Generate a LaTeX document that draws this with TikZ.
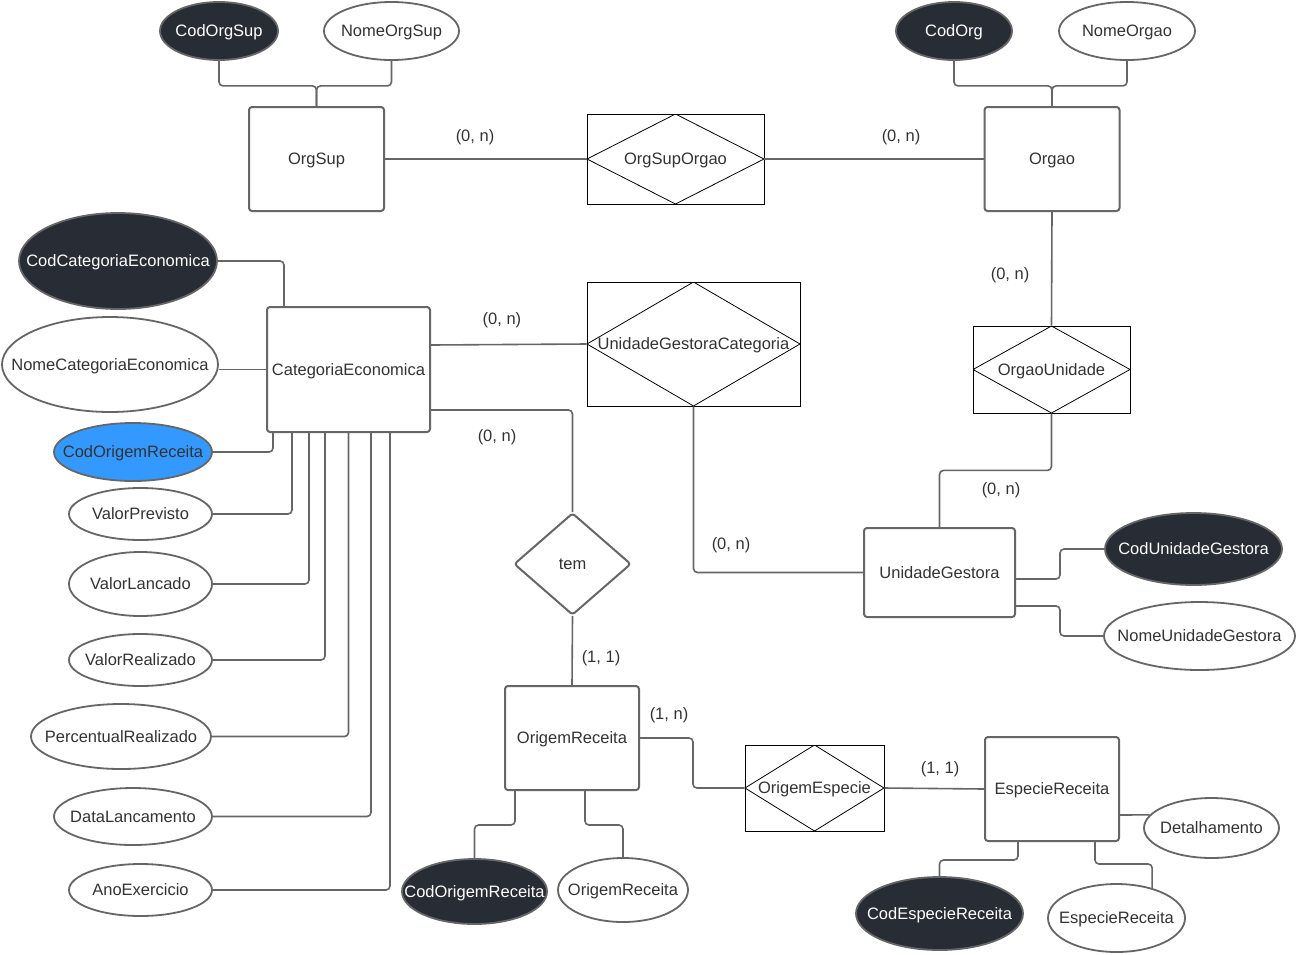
\documentclass[tikz,border=0pt]{standalone}
\usepackage{fontspec}
\setmainfont{Liberation Sans}
\usetikzlibrary{positioning}
\usetikzlibrary{calc}
\usetikzlibrary{shapes.geometric}
\definecolor{linegray}{RGB}{102,102,102}
\definecolor{textgray}{RGB}{51,51,51}
\definecolor{keyfill}{RGB}{40,44,52}
\definecolor{bluefill}{RGB}{51,153,255}

\begin{document}
\begin{tikzpicture}[
    x=1pt, y=-1pt,
    every node/.style={font=\fontsize{16.5}{20}\selectfont, text=textgray, text depth=0pt},
    entity/.style={rectangle, draw=linegray, line width=2pt, rounded corners=3pt, fill=white, minimum width=135pt, minimum height=104pt, inner sep=0pt},
    attr/.style={ellipse, draw=linegray, line width=1.8pt, fill=white, inner sep=0pt,
        execute at begin node={\hbox to 0pt\bgroup\hss}, execute at end node={\hss\egroup}},
    keyattr/.style={attr, fill=keyfill, text=white},
    assoc/.style={rectangle, draw=black, line width=0.8pt, inner sep=0pt,
        path picture={\draw[black, line width=0.8pt] (path picture bounding box.north) -- (path picture bounding box.east) -- (path picture bounding box.south) -- (path picture bounding box.west) -- cycle;}},
    link/.style={draw=linegray, line width=1.6pt, rounded corners=4pt},
    card/.style={inner sep=0pt}
]
    \fill[white] (0,0) rectangle (1296,954);
    \useasboundingbox (0,0) rectangle (1296,954);

    % OrgSup and Orgao
    \node[entity] (orgsup) at (316.5,159) {OrgSup};
    \node[keyattr, minimum width=118pt, minimum height=58pt] (codorgsup) at (219,31) {CodOrgSup};
    \node[attr, minimum width=135pt, minimum height=58pt] (nomeorgsup) at (391.5,31) {NomeOrgSup};
    \node[assoc, minimum width=177pt, minimum height=90pt] (orgsuporgao) at (675.5,159) {OrgSupOrgao};
    \node[entity] (orgao) at (1052,159) {Orgao};
    \node[keyattr, minimum width=116pt, minimum height=58pt] (codorg) at (954,31) {CodOrg};
    \node[attr, minimum width=136pt, minimum height=58pt] (nomeorgao) at (1127,31) {NomeOrgao};
    \node[assoc, minimum width=157pt, minimum height=87pt] (orgaounidade) at (1051.5,369.5) {OrgaoUnidade};

    % UnidadeGestora
    \node[entity, minimum width=151pt, minimum height=89pt] (ug) at (939.5,572.5) {UnidadeGestora};
    \node[keyattr, minimum width=177pt, minimum height=72pt] (codug) at (1193.5,549) {CodUnidadeGestora};
    \node[attr, minimum width=191pt, minimum height=68pt] (nomeug) at (1199.5,636) {NomeUnidadeGestora};
    \node[assoc, minimum width=213pt, minimum height=124pt] (ugcat) at (693.5,344) {UnidadeGestoraCategoria};

    % CategoriaEconomica
    \node[entity, minimum width=163pt, minimum height=125pt] (catecon) at (348.5,369.5) {CategoriaEconomica};
    \node[keyattr, minimum width=198pt, minimum height=96pt] (codcat) at (118,261) {CodCategoriaEconomica};
    \node[attr, minimum width=216pt, minimum height=95pt] (nomecat) at (110,364.5) {NomeCategoriaEconomica};
    \node[attr, fill=bluefill, minimum width=158pt, minimum height=58pt] (codorigcat) at (133,452) {CodOrigemReceita};
    \node[attr, minimum width=143pt, minimum height=52pt] (vprev) at (140.5,514) {ValorPrevisto};
    \node[attr, minimum width=143pt, minimum height=64pt] (vlanc) at (140.5,584) {ValorLancado};
    \node[attr, minimum width=143pt, minimum height=52pt] (vreal) at (140.5,660) {ValorRealizado};
    \node[attr, minimum width=180pt, minimum height=65pt] (preal) at (121,736.5) {PercentualRealizado};
    \node[attr, minimum width=158pt, minimum height=57pt] (dlanc) at (133,816.5) {DataLancamento};
    \node[attr, minimum width=143pt, minimum height=52pt] (anoex) at (140.5,890) {AnoExercicio};

    % OrigemReceita and EspecieReceita
    \node[diamond, draw=linegray, line width=2pt, rounded corners=3pt, fill=white, minimum width=117pt, minimum height=102pt, inner sep=0pt] (tem) at (572.5,564) {tem};
    \node[entity, minimum width=134pt] (origrec) at (572,738) {OrigemReceita};
    \node[keyattr, minimum width=145pt, minimum height=65pt] (codorigrec) at (474.5,891.5) {CodOrigemReceita};
    \node[attr, minimum width=130pt, minimum height=64pt] (nomeorigrec) at (623,890) {OrigemReceita};
    \node[assoc, minimum width=139pt, minimum height=86pt] (origesp) at (814.5,788) {OrigemEspecie};
    \node[entity, minimum width=134pt] (espec) at (1052,789) {EspecieReceita};
    \node[attr, minimum width=135pt, minimum height=60pt] (detalh) at (1211.5,828) {Detalhamento};
    \node[keyattr, minimum width=167pt, minimum height=73pt] (codesp) at (939.5,913.5) {CodEspecieReceita};
    \node[attr, minimum width=137pt, minimum height=68pt] (nomeesp) at (1116.5,918) {EspecieReceita};

    % cardinalities
    \node[card] (c-orgsup) at (475,136) {(0, n)};
    \node[card] (c-orgao) at (901,136) {(0, n)};
    \node[card] (c-orgaoun) at (1010,274) {(0, n)};
    \node[card] (c-unorgao) at (1001,489) {(0, n)};
    \node[card] (c-catug) at (502,319) {(0, n)};
    \node[card] (c-ugcat) at (731,544) {(0, n)};
    \node[card] (c-cattem) at (497,436) {(0, n)};
    \node[card] (c-temorig) at (601,657) {(1, 1)};
    \node[card] (c-origesp) at (669,714) {(1, n)};
    \node[card] (c-esporig) at (940,768) {(1, 1)};

    % connectors
    \draw[link] (codorgsup.south) -- ++(0,25) -| (orgsup.north);
    \draw[link] (nomeorgsup.south) -- ++(0,25) -| (orgsup.north);
    \draw[link] (codorg.south) -- ++(0,25) -| (orgao.north);
    \draw[link] (nomeorgao.south) -- ++(0,25) -| (orgao.north);
    \draw[link] (orgsup.east) -- (orgsuporgao.west);
    \draw[link] (orgsuporgao.east) -- (orgao.west);
    \draw[link] (orgao.south) -- (orgaounidade.north);
    \draw[link] (orgaounidade.south) -- ++(0,57) -| (ug.north);
    \draw[link] ([yshift=-6.5pt]ug.east) -- ++(44,0) |- (codug.west);
    \draw[link] ([yshift=-33.5pt]ug.east) -- ++(44,0) |- (nomeug.west);
    \draw[link] ([yshift=24.5pt]catecon.east) -- (ugcat.west);
    \draw[link] (ugcat.south) |- (ug.west);
    \draw[link] (codcat.east) -| ([xshift=-64.5pt]catecon.north);
    \draw[link] (nomecat.east |- catecon.west) -- (catecon.west);
    \foreach \attrname/\dx in {codorigcat/-75.5, vprev/-56.5, vlanc/-39.5, vreal/-23.5, preal/0, dlanc/22.5, anoex/41.5}
        \draw[link] (\attrname.east) -| ([xshift=\dx pt]catecon.south);
    \draw[link] ([yshift=-40.5pt]catecon.east) -| (tem.north);
    \draw[link] (tem.south) -- (origrec.north);
    \draw[link] (origrec.east) -- ++(53,0) |- (origesp.west);
    \draw[link] (origesp.east) -- (espec.west);
    \draw[link] ([xshift=-57pt]origrec.south) -- ++(0,34) -| (codorigrec.north);
    \draw[link] ([xshift=13pt]origrec.south) -- ++(0,34) -| (nomeorigrec.north);
    \draw[link] ([yshift=-26pt]espec.east) -- (detalh.168);
    \draw[link] ([xshift=-34pt]espec.south) -- ++(0,18) -| (codesp.north);
    \draw[link] ([xshift=43pt]espec.south) -- ++(0,22) -| (nomeesp.40);
\end{tikzpicture}
\end{document}
